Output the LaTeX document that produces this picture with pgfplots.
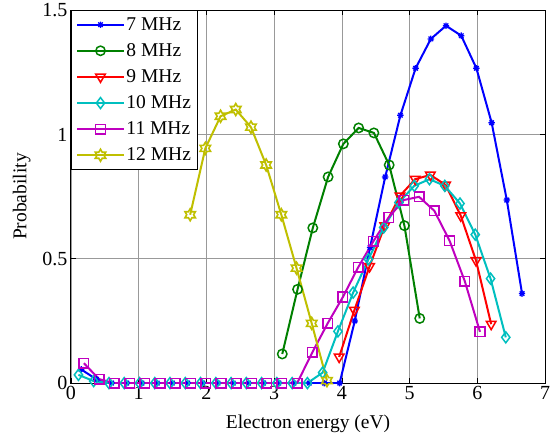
\documentclass[border=0pt]{standalone}
\usepackage{fontspec}
\setmainfont{Liberation Serif}
\usepackage{pgfplots}
\pgfplotsset{compat=1.18}
\usetikzlibrary{plotmarks}
\definecolor{mblue}{rgb}{0,0,1}
\definecolor{mgreen}{rgb}{0,0.5,0}
\definecolor{mred}{rgb}{1,0,0}
\definecolor{mcyan}{rgb}{0,0.75,0.75}
\definecolor{mmag}{rgb}{0.75,0,0.75}
\definecolor{myel}{rgb}{0.75,0.75,0}
\pgfdeclareplotmark{hexagram}{%
  \pgfpathmoveto{\pgfpointpolar{90}{\pgfplotmarksize}}%
  \pgfpathlineto{\pgfpointpolar{120}{0.577\pgfplotmarksize}}%
  \pgfpathlineto{\pgfpointpolar{150}{\pgfplotmarksize}}%
  \pgfpathlineto{\pgfpointpolar{180}{0.577\pgfplotmarksize}}%
  \pgfpathlineto{\pgfpointpolar{210}{\pgfplotmarksize}}%
  \pgfpathlineto{\pgfpointpolar{240}{0.577\pgfplotmarksize}}%
  \pgfpathlineto{\pgfpointpolar{270}{\pgfplotmarksize}}%
  \pgfpathlineto{\pgfpointpolar{300}{0.577\pgfplotmarksize}}%
  \pgfpathlineto{\pgfpointpolar{330}{\pgfplotmarksize}}%
  \pgfpathlineto{\pgfpointpolar{0}{0.577\pgfplotmarksize}}%
  \pgfpathlineto{\pgfpointpolar{30}{\pgfplotmarksize}}%
  \pgfpathlineto{\pgfpointpolar{60}{0.577\pgfplotmarksize}}%
  \pgfpathclose
  \pgfusepathqstroke
}
\pgfdeclareplotmark{mstar}{%
  \pgfpathmoveto{\pgfqpoint{-\pgfplotmarksize}{0pt}}\pgfpathlineto{\pgfqpoint{\pgfplotmarksize}{0pt}}%
  \pgfpathmoveto{\pgfqpoint{0pt}{-\pgfplotmarksize}}\pgfpathlineto{\pgfqpoint{0pt}{\pgfplotmarksize}}%
  \pgfpathmoveto{\pgfpointpolar{45}{\pgfplotmarksize}}\pgfpathlineto{\pgfpointpolar{225}{\pgfplotmarksize}}%
  \pgfpathmoveto{\pgfpointpolar{135}{\pgfplotmarksize}}\pgfpathlineto{\pgfpointpolar{315}{\pgfplotmarksize}}%
  \pgfusepathqstroke
}
\begin{document}
\begin{tikzpicture}
\begin{axis}[
  scale only axis,
  width=474pt, height=373pt,
  xmin=0, xmax=7, ymin=0, ymax=1.5,
  xtick={0,1,...,7},
  ytick={0,0.5,1,1.5},
  yticklabels={0,0.5,1,1.5},
  grid=major,
  major grid style={gray!80, line width=0.6pt},
  axis line style={line width=1pt},
  tick style={black, line width=0.7pt},
  major tick length=5pt,
  tick align=inside,
  /pgf/number format/assume math mode=true,
  ticklabel style={font=\fontsize{20}{22}\selectfont},
  label style={font=\fontsize{19.5}{22}\selectfont},
  xlabel={Electron energy (eV)},
  ylabel={Probability},
  xlabel style={yshift=-8pt},
  ylabel style={yshift=5pt},
  legend cell align=left,
  legend style={at={(0,1)}, anchor=north west, draw=black, line width=1pt,
    font=\fontsize{19.5}{22}\selectfont, row sep=7.7pt, inner xsep=5pt, inner ysep=5pt},
  legend image code/.code={\draw[mark repeat=2,mark phase=2] plot coordinates {(0pt,0pt) (23pt,0pt) (46pt,0pt)};},
  every axis plot/.append style={line width=2pt},
]
\addplot[mblue, mark=mstar, mark size=3.2pt, mark options={line width=1.3pt}] coordinates {
(0.150,0.055) (0.375,0.015) (0.599,0) (0.824,0) (1.048,0) (1.273,0) (1.497,0) (1.722,0)
(1.946,0) (2.171,0) (2.395,0) (2.620,0) (2.844,0) (3.069,0) (3.293,0) (3.518,0) (3.742,0)
(3.967,0) (4.191,0.25) (4.416,0.545) (4.640,0.829) (4.865,1.077) (5.089,1.266) (5.314,1.384)
(5.538,1.437) (5.763,1.397) (5.987,1.266) (6.212,1.047) (6.436,0.736) (6.661,0.36)};
\addlegendentry{7 MHz}
\addplot[mgreen, mark=o, mark size=4.7pt, mark options={line width=1.5pt}] coordinates {
(3.120,0.117) (3.346,0.377) (3.571,0.624) (3.797,0.829) (4.022,0.962) (4.248,1.026)
(4.473,1.006) (4.699,0.877) (4.924,0.633) (5.150,0.26)};
\addlegendentry{8 MHz}
\addplot[mred, mark=triangle, mark size=5.5pt, mark options={line width=1.5pt, rotate=180}] coordinates {
(3.960,0.105) (4.185,0.293) (4.409,0.469) (4.634,0.633) (4.858,0.753) (5.083,0.82)
(5.307,0.837) (5.532,0.797) (5.756,0.673) (5.981,0.493) (6.205,0.237)};
\addlegendentry{9 MHz}
\addplot[mcyan, mark=diamond, mark size=5.5pt, mark options={line width=1.5pt}] coordinates {
(0.110,0.033) (0.335,0.008) (0.561,0) (0.786,0) (1.012,0) (1.237,0) (1.462,0) (1.688,0)
(1.913,0) (2.139,0) (2.364,0) (2.589,0) (2.815,0) (3.040,0) (3.266,0) (3.491,0)
(3.716,0.042) (3.942,0.208) (4.167,0.364) (4.393,0.498) (4.618,0.626) (4.843,0.726)
(5.069,0.793) (5.294,0.82) (5.520,0.793) (5.745,0.722) (5.970,0.597) (6.196,0.42) (6.421,0.184)};
\addlegendentry{10 MHz}
\addplot[mmag, mark=square, mark size=4.8pt, mark options={line width=1.5pt}] coordinates {
(0.190,0.08) (0.415,0.016) (0.640,0) (0.865,0) (1.090,0) (1.315,0) (1.540,0) (1.765,0)
(1.990,0) (2.215,0) (2.440,0) (2.665,0) (2.890,0) (3.115,0) (3.340,0) (3.565,0.124)
(3.790,0.24) (4.015,0.346) (4.240,0.465) (4.465,0.57) (4.690,0.666) (4.915,0.736)
(5.140,0.749) (5.365,0.693) (5.590,0.573) (5.815,0.41) (6.040,0.206)};
\addlegendentry{11 MHz}
\addplot[myel, mark=hexagram, mark size=6pt, mark options={line width=1.6pt}] coordinates {
(1.760,0.677) (1.984,0.944) (2.209,1.073) (2.433,1.10) (2.658,1.029) (2.882,0.877)
(3.106,0.677) (3.331,0.462) (3.555,0.24) (3.780,0.01)};
\addlegendentry{12 MHz}
\end{axis}
\path ([xshift=-71pt,yshift=-52pt]current axis.south west) rectangle ([xshift=9pt,yshift=10pt]current axis.north east);
\end{tikzpicture}
\end{document}
